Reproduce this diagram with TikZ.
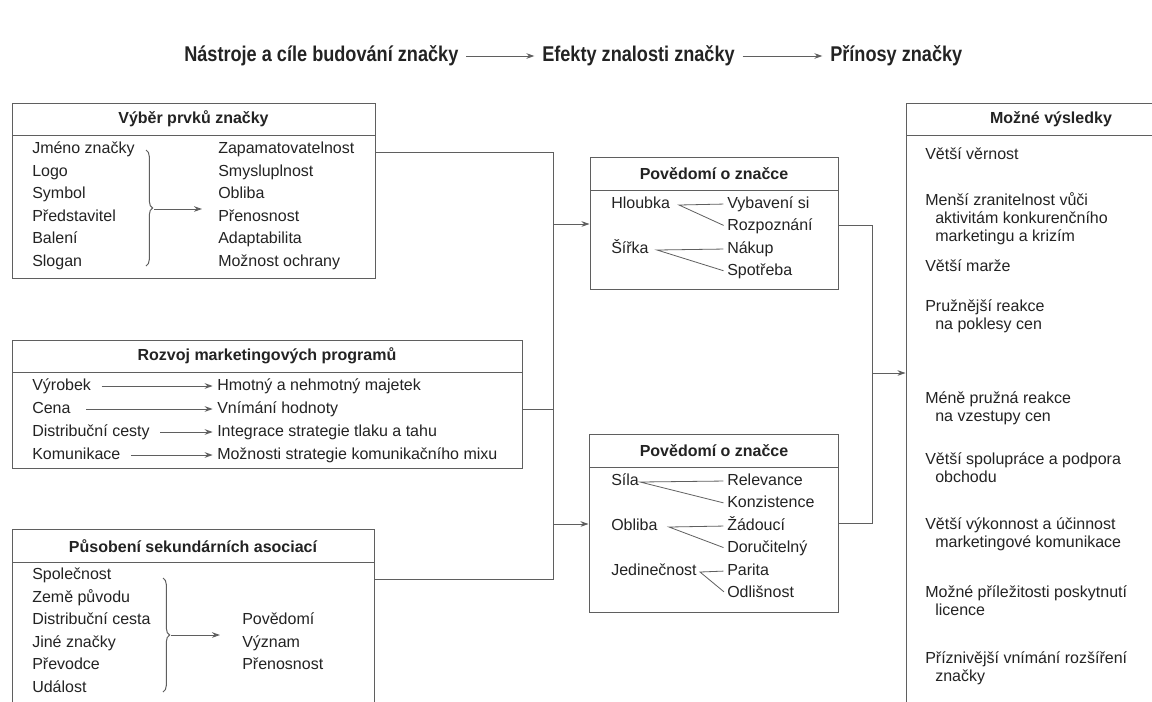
\documentclass[tikz,border=0pt]{standalone}
\usepackage{fontspec}
\setmainfont{Liberation Sans}
\newfontfamily\headfont[FakeStretch=0.85]{Liberation Sans}
\usetikzlibrary{arrows.meta}
\usetikzlibrary{decorations.pathreplacing}
\usetikzlibrary{fit}

\definecolor{inkgray}{RGB}{35,35,35}
\definecolor{rulegray}{RGB}{95,95,95}

\tikzset{
  frame/.style={draw=rulegray, line width=0.75pt, inner sep=0pt},
  wire/.style={draw=rulegray, line width=0.75pt},
  arr/.style={wire, -{Stealth[length=6pt,width=4.2pt]}},
  txtarr/.style={arr, shorten <=7pt, shorten >=2.5pt},
  hdarr/.style={arr, shorten <=5pt, shorten >=5pt},
  tie/.style={wire, line width=0.6pt, shorten <=2pt, shorten >=2pt},
  curly/.style={wire, decorate, decoration={brace, amplitude=5pt}},
  head/.style={anchor=west, inner sep=0.75pt, text=inkgray, font=\headfont\fontsize{16}{19}\selectfont\bfseries},
  title/.style={inner sep=0.75pt, text=inkgray, font=\fontsize{12}{14}\selectfont\bfseries},
  item/.style={anchor=west, inner sep=0.75pt, text=inkgray, text height=9pt, text depth=3pt, font=\fontsize{12}{14}\selectfont},
}

\begin{document}
\begin{tikzpicture}[x=0.75pt,y=0.75pt,yscale=-1,xscale=1]
\path[use as bounding box, fill=white] (0,0) rectangle (1152,701);

% Text Node
\draw (183,56) node [head] (nastroje) {Nástroje a cíle budování značky};
% Text Node
\draw (541,56) node [head] (efekty) {Efekty znalosti značky};
% Text Node
\draw (829,56) node [head] (prinosy) {Přínosy značky};
%Straight Lines
\draw [hdarr] (nastroje) -- (efekty);
%Straight Lines
\draw [hdarr] (efekty) -- (prinosy);

%Shape: Rectangle
\node [frame, fit={(12,103) (375,278)}] (vyber) {};
\draw [wire] (12,135) -- (375,135);
% Text Node
\draw (193.5,119) node [title] (vyberT) {Výběr prvků značky};
% Text Node
\draw (31,149.5) node [item] (jmeno) {Jméno značky};
\draw (31,172) node [item] (logo) {Logo};
\draw (31,194.5) node [item] (symbol) {Symbol};
\draw (31,217) node [item] (predst) {Představitel};
\draw (31,239.5) node [item] (baleni) {Balení};
\draw (31,262) node [item] (slogan) {Slogan};
% Text Node
\draw (217,149.5) node [item] (zapam) {Zapamatovatelnost};
\draw (217,172) node [item] (smysl) {Smysluplnost};
\draw (217,194.5) node [item] (obliba) {Obliba};
\draw (217,217) node [item] (prenos) {Přenosnost};
\draw (217,239.5) node [item] (adapt) {Adaptabilita};
\draw (217,262) node [item] (ochrana) {Možnost ochrany};
%Curly Brace
\draw [curly] (146,150) -- (146,266);
\coordinate (tipA) at (154,209);
\coordinate (endA) at (202,209);
\draw [arr] (tipA) -- (endA);

%Shape: Rectangle
\node [frame, fit={(12,340) (522,468)}] (rozvoj) {};
\draw [wire] (12,372) -- (522,372);
% Text Node
\draw (267,356) node [title] (rozvojT) {Rozvoj marketingových programů};
% Text Node
\draw (31,386) node [item] (vyrobek) {Výrobek};
\draw (31,409) node [item] (cena) {Cena};
\draw (31,432) node [item] (distr) {Distribuční cesty};
\draw (31,455) node [item] (komun) {Komunikace};
% Text Node
\draw (216,386) node [item] (hmotny) {Hmotný a nehmotný majetek};
\draw (216,409) node [item] (vnimani) {Vnímání hodnoty};
\draw (216,432) node [item] (integr) {Integrace strategie tlaku a tahu};
\draw (216,455) node [item] (moznosti) {Možnosti strategie komunikačního mixu};
%Straight Lines
\draw [txtarr] (vyrobek) -- (hmotny);
\draw [txtarr, shorten <=11pt] (cena) -- (vnimani);
\draw [txtarr] (distr) -- (integr);
\draw [txtarr] (komun) -- (moznosti);

%Shape: Rectangle
\node [frame, fit={(12,529) (374,730)}] (pusob) {};
\draw [wire] (12,562) -- (374,562);
% Text Node
\draw (193,546) node [title] (pusobT) {Působení sekundárních asociací};
% Text Node
\draw (31,575.5) node [item] (spolec) {Společnost};
\draw (31,598) node [item] (zeme) {Země původu};
\draw (31,620.5) node [item] (distrc) {Distribuční cesta};
\draw (31,643) node [item] (jine) {Jiné značky};
\draw (31,665.5) node [item] (prevod) {Převodce};
\draw (31,688) node [item] (udalost) {Událost};
% Text Node
\draw (241,620.5) node [item] (povedomi) {Povědomí};
\draw (241,643) node [item] (vyznam) {Význam};
\draw (241,665.5) node [item] (prenosB) {Přenosnost};
%Curly Brace
\draw [curly] (163,578) -- (163,692);
\coordinate (tipB) at (171,635);
\coordinate (endB) at (220,635);
\draw [arr] (tipB) -- (endB);

%Shape: Rectangle
\node [frame, fit={(590,157) (838,289)}] (povA) {};
\draw [wire] (590,190) -- (838,190);
% Text Node
\draw (714,174) node [title] (povAT) {Povědomí o značce};
% Text Node
\draw (610,204) node [item] (hloubka) {Hloubka};
\draw (610,249) node [item] (sirka) {Šířka};
\draw (726,204) node [item] (vybav) {Vybavení si};
\draw (726,226.5) node [item] (rozpoz) {Rozpoznání};
\draw (726,249) node [item] (nakup) {Nákup};
\draw (726,271.5) node [item] (spotreba) {Spotřeba};
%Straight Lines
\coordinate (kH) at (679,205);
\coordinate (kS) at (657,250);
\draw [tie] (vybav.west) -- (kH) -- (rozpoz.west);
\draw [tie] (nakup.west) -- (kS) -- (spotreba.west);

%Shape: Rectangle
\node [frame, fit={(589,434) (838,612)}] (povB) {};
\draw [wire] (589,467) -- (838,467);
% Text Node
\draw (714,451) node [title] (povBT) {Povědomí o značce};
% Text Node
\draw (610,481) node [item] (sila) {Síla};
\draw (610,526) node [item] (oblibaB) {Obliba};
\draw (610,571) node [item] (jedin) {Jedinečnost};
\draw (726,481) node [item] (relev) {Relevance};
\draw (726,503.5) node [item] (konzist) {Konzistence};
\draw (726,526) node [item] (zadouci) {Žádoucí};
\draw (726,548.5) node [item] (doruc) {Doručitelný};
\draw (726,571) node [item] (parita) {Parita};
\draw (726,593.5) node [item] (odlis) {Odlišnost};
%Straight Lines
\coordinate (kL) at (640,482);
\coordinate (kO) at (669,527);
\coordinate (kJ) at (700,572);
\draw [tie] (relev.west) -- (kL) -- (konzist.west);
\draw [tie] (zadouci.west) -- (kO) -- (doruc.west);
\draw [tie] (parita.west) -- (kJ) -- (odlis.west);

%Shape: Rectangle
\node [frame, fit={(906,103) (1180,730)}] (vysl) {};
\draw [wire] (906,135) -- (1180,135);
% Text Node
\draw (1051,119) node [title] (vyslT) {Možné výsledky};
% Text Node
\draw (924,155) node [item] (vA) {Větší věrnost};
\draw (924,201) node [item] (vB) {Menší zranitelnost vůči};
\draw (934,219) node [item] (vBb) {aktivitám konkurenčního};
\draw (934,237) node [item] (vBc) {marketingu a krizím};
\draw (924,267) node [item] (vC) {Větší marže};
\draw (924,307) node [item] (vD) {Pružnější reakce};
\draw (934,325) node [item] (vDb) {na poklesy cen};
\draw (924,399) node [item] (vE) {Méně pružná reakce};
\draw (934,417) node [item] (vEb) {na vzestupy cen};
\draw (924,460) node [item] (vF) {Větší spolupráce a podpora};
\draw (934,478) node [item] (vFb) {obchodu};
\draw (924,525) node [item] (vG) {Větší výkonnost a účinnost};
\draw (934,543) node [item] (vGb) {marketingové komunikace};
\draw (924,593) node [item] (vH) {Možné příležitosti poskytnutí};
\draw (934,611) node [item] (vHb) {licence};
\draw (924,659) node [item] (vI) {Příznivější vnímání rozšíření};
\draw (934,677) node [item] (vIb) {značky};

%Straight Lines
\coordinate (busA) at (553,152);
\coordinate (busM) at (553,409);
\coordinate (busB) at (553,579);
\coordinate (inA) at (553,224);
\coordinate (inB) at (553,524);
\draw [wire] (vyber.east |- busA) -- (busA) -- (busB) -- (pusob.east |- busB);
\draw [wire] (rozvoj.east |- busM) -- (busM);
\draw [arr] (inA) -- (povA.west |- inA);
\draw [arr] (inB) -- (povB.west |- inB);
%Straight Lines
\coordinate (busC) at (872,225);
\coordinate (busD) at (872,523);
\coordinate (outR) at (872,373);
\draw [wire] (povA.east |- busC) -- (busC) -- (busD) -- (povB.east |- busD);
\draw [arr] (outR) -- (vysl.west |- outR);

\end{tikzpicture}
\end{document}
